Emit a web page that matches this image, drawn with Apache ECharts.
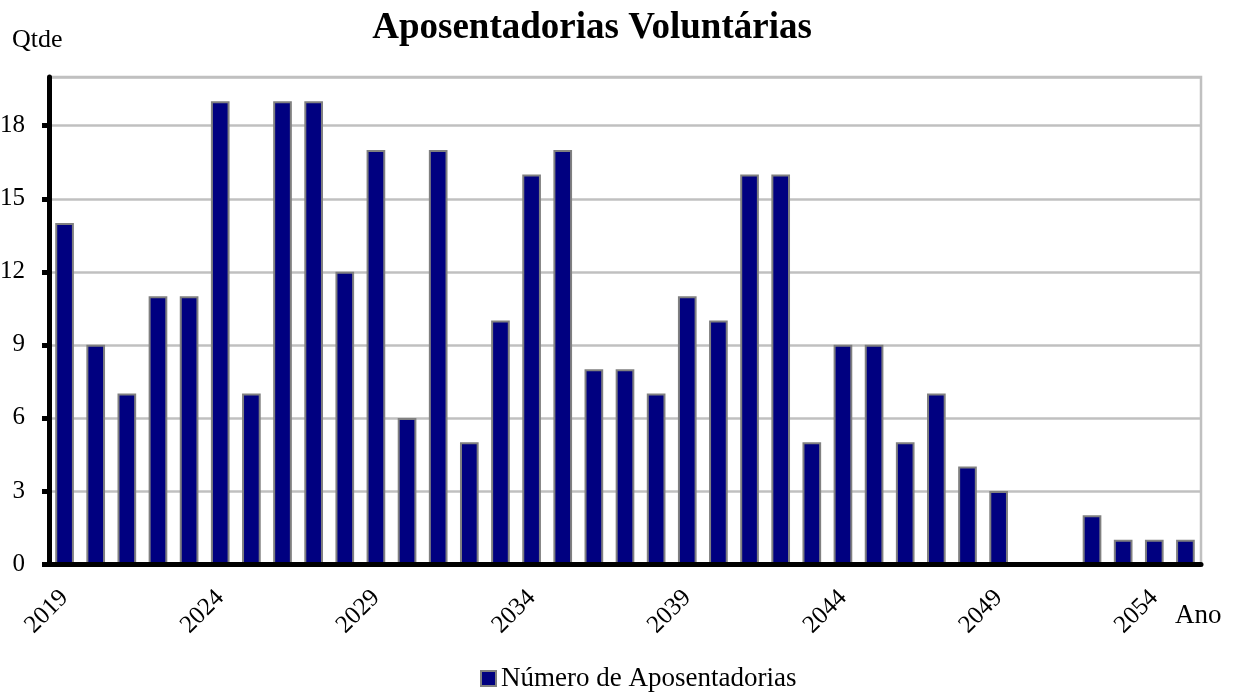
<!DOCTYPE html>
<html>
<head>
<meta charset="utf-8">
<title>Aposentadorias Voluntárias</title>
<script src="https://cdn.jsdelivr.net/npm/echarts@6/dist/echarts.min.js"></script>
<style>
    html, body { margin: 0; padding: 0; background: #fff; }
    #chart { width: 1240px; height: 693px; }
</style>
</head>
<body>
<div id="chart"></div>
<script>
// anos (categorias)
var anos = [];
for (var a = 2019; a <= 2055; a++) {
    anos.push(String(a));
}

// número de aposentadorias por ano
var qtde = [14, 9, 7, 11, 11, 19, 7, 19, 19, 12,
            17, 6, 17, 5, 10, 16, 17, 8, 8, 7,
            11, 10, 16, 16, 5, 9, 9, 5, 7, 4,
            3, 0, 0, 2, 1, 1, 1];

var fonte = "'Liberation Serif', 'Times New Roman', serif";

var myChart = echarts.init(document.getElementById('chart'));

var option = {
    backgroundColor: '#fff',
    animation: false,
    title: {
        text: 'Aposentadorias Voluntárias',
        left: 587,
        top: 5,
        textAlign: 'center',
        textStyle: {
            fontFamily: fonte,
            fontSize: 37,
            fontWeight: 'bold',
            color: '#000'
        }
    },
    legend: {
        data: ['Número de Aposentadorias'],
        left: 475,
        top: 660,
        itemWidth: 15,
        itemHeight: 15,
        icon: 'rect',
        itemStyle: {
            color: '#000080',
            borderColor: '#808080',
            borderWidth: 2
        },
        textStyle: {
            fontFamily: fonte,
            fontSize: 27,
            color: '#000'
        }
    },
    graphic: [{
        type: 'text',
        left: 12,
        top: 27,
        style: {
            text: 'Qtde',
            font: '26px ' + fonte,
            fill: '#000'
        }
    }, {
        type: 'text',
        left: 1175,
        top: 602,
        style: {
            text: 'Ano',
            font: '27px ' + fonte,
            fill: '#000'
        }
    }],
    grid: {
        left: 49,
        right: 39,
        top: 77,
        bottom: 129,
        outerBoundsMode: 'none',
        show: true,
        borderColor: '#c0c0c0',
        borderWidth: 2.5
    },
    xAxis: {
        type: 'category',
        data: anos,
        z: 10,
        axisLine: {
            lineStyle: { color: '#000', width: 5 }
        },
        axisTick: {
            interval: 4,
            length: 8,
            lineStyle: { color: '#000', width: 5 }
        },
        axisLabel: {
            interval: 4,
            rotate: 45,
            margin: 30,
            fontFamily: fonte,
            fontSize: 25,
            color: '#000'
        },
        splitLine: { show: false }
    },
    yAxis: {
        type: 'value',
        min: 0,
        max: 20,
        interval: 3,
        axisLine: {
            show: true,
            lineStyle: { color: '#000', width: 5 }
        },
        axisTick: {
            show: true,
            length: 7,
            lineStyle: { color: '#000', width: 5 }
        },
        axisLabel: {
            showMaxLabel: false,
            margin: 24,
            fontFamily: fonte,
            fontSize: 25,
            color: '#000'
        },
        splitLine: {
            lineStyle: { color: '#c0c0c0', width: 2.5 }
        }
    },
    series: [{
        name: 'Número de Aposentadorias',
        type: 'bar',
        data: qtde,
        barWidth: '60%',
        z: 5,
        itemStyle: {
            color: '#000080',
            borderColor: '#808080',
            borderWidth: 2
        }
    }]
};

myChart.setOption(option);
</script>
</body>
</html>
